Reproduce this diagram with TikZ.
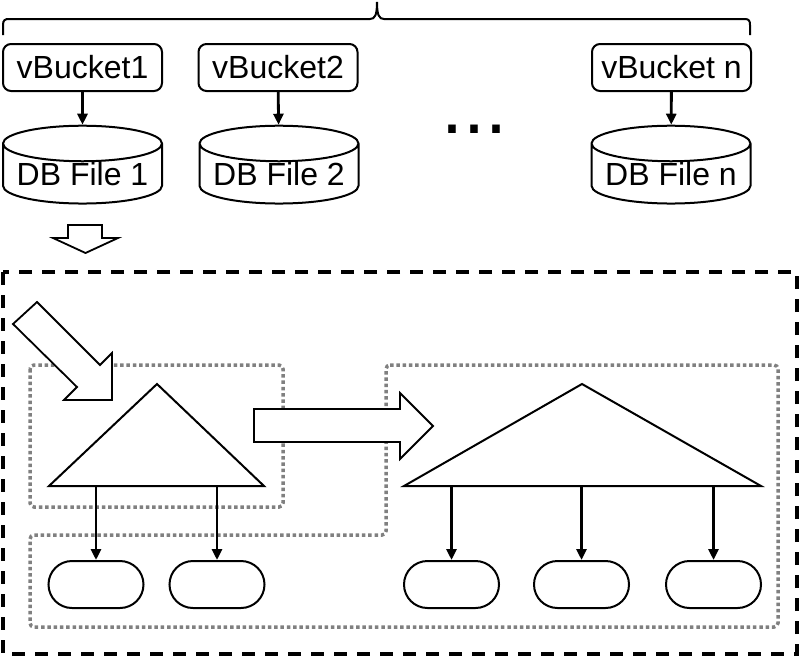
\documentclass[tikz,border=0pt]{standalone}
\usepackage{fontspec}
\setmainfont{Liberation Sans}
\usetikzlibrary{arrows.meta,shapes.geometric,shapes.misc}
\begin{document}
\begin{tikzpicture}[x = 1pt, y = -1pt, font = \fontsize{32}{38}\selectfont,
		bucket/.style = {draw, line width = 2pt, rounded corners = 8pt, minimum width = 159pt, minimum height = 47pt, inner sep = 0pt},
		dbfile/.style = {draw, line width = 2pt, cylinder, shape border rotate = 90, aspect = 0.27, minimum width = 159pt, minimum height = 69pt, inner sep = 0pt},
		leaf/.style = {draw, line width = 2pt, rounded rectangle, minimum width = 95pt, minimum height = 47pt, inner sep = 0pt},
		link/.style = {line width = 2.8pt, -{Triangle[length = 11pt, width = 10pt]}},
		fat/.style = {draw, line width = 1.8pt, fill = white},
		group/.style = {draw = black!50, line width = 3.5pt, dash pattern = on 3.5pt off 2.8pt, rounded corners = 4pt}]
	\useasboundingbox (0,0) rectangle (800,657);

	\draw [line width = 2pt] (3,35) -- (3,25) .. controls (3,20) and (5,19) .. (9,19) -- (370,19)
		.. controls (375,19) and (377,15) .. (377,2) .. controls (377,15) and (379,19) .. (384,19)
		-- (745,19) .. controls (749,19) and (750,21) .. (750,25) -- (750,35);

	\node [bucket] (vb1) at (82.5,67.5) {vBucket1};
	\node [bucket] (vb2) at (278,67.5) {vBucket2};
	\node [bucket] (vbn) at (671.5,67.5) {vBucket n};

	\node [dbfile] (db1) at (82.5,174) {DB File 1};
	\node [dbfile] (db2) at (279,174) {DB File 2};
	\node [dbfile] (dbn) at (671,174) {DB File n};

	\draw [link] (vb1) -- (db1);
	\draw [link] (vb2) -- (db2);
	\draw [link] (vbn) -- (dbn);

	\node [font = \fontsize{79}{80}\selectfont, inner sep = 0pt, anchor = base] (dots) at (474,133) {...};

	\draw [fat] (68,225) -- (102,225) -- (102,238) -- (118,238) -- (85.5,253) -- (53,238) -- (68,238) -- cycle;

	\draw [line width = 4pt, dash pattern = on 13pt off 10pt] (3,272) rectangle (797,654);

	\draw [group] (30,365) rectangle (283,507);
	\draw [group] (386,365) -- (778,365) -- (778,627) -- (30,627) -- (30,535) -- (386,535) -- cycle;

	\draw [fat] (37,302) -- (100,365) -- (112,353) -- (112,400) -- (64,400) -- (77,387) -- (13,324) -- cycle;
	\draw [fat] (254,409) -- (400,409) -- (400,393) -- (433,426) -- (400,459) -- (400,442) -- (254,442) -- cycle;

	\coordinate (t1top) at (157,384);
	\coordinate (t1l) at (49,486);
	\coordinate (t1r) at (264,486);
	\coordinate (t2top) at (582,384);
	\coordinate (t2l) at (404,486);
	\coordinate (t2r) at (761,486);
	\draw [line width = 2pt] (t1top) -- (t1r) -- (t1l) -- cycle;
	\draw [line width = 2pt] (t2top) -- (t2r) -- (t2l) -- cycle;

	\foreach \n/\x in {1/96, 2/217, 3/451.5, 4/581.5, 5/713.5}{
			\node [leaf] (leaf\n) at (\x,584.5) {};
		}
	\foreach \n in {1,2}{
			\draw [link] (leaf\n |- t1l) -- (leaf\n);
		}
	\foreach \n in {3,4,5}{
			\draw [link] (leaf\n |- t2l) -- (leaf\n);
		}

\end{tikzpicture}
\end{document}
